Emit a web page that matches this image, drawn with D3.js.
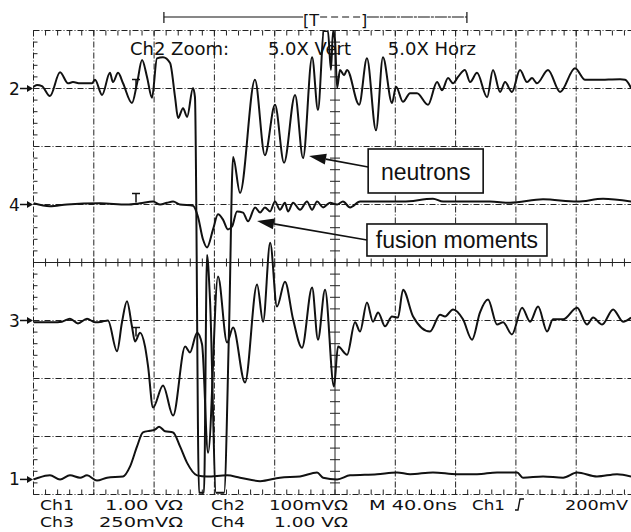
<!DOCTYPE html>
<html>
<head>
<meta charset="utf-8">
<script src="https://cdn.jsdelivr.net/npm/d3@7"></script>
<style>
body { margin: 0; background: #fff; }
text { font-family: "DejaVu Sans", sans-serif; fill: #111; }
</style>
</head>
<body>
<div id="scope"></div>
<script>
// scope screen: time in ns (40 ns/div, 10 div), value in divisions (8 div)
// each trace value is in divisions relative to its channel ground marker

var ch2_t = [0, 2.3, 5.6, 10.9, 17.6, 22.9, 26.2, 30.9, 38.8, 40.8, 45.5, 50.7, 52.7, 56.1, 59.4, 65.3, 68.7, 72.0, 75.3, 78.6, 81.9, 85.9, 90.6, 93.9, 95.9, 99.2, 101.9, 105.8, 107.1, 109.8, 113.1, 115.1, 117.1, 121.1, 126.4, 129.7, 132.4, 137.0, 146.9, 153.5, 160.2, 166.2, 173.5, 178.8, 184.8, 188.7, 192.7, 195.3, 197.3, 198.7, 200.0, 201.4, 203.3, 206.0, 208.0, 216.0, 221.2, 227.2, 231.8, 237.8, 240.5, 245.1, 249.8, 254.4, 261.7, 267.7, 271.0, 275.0, 278.3, 281.6, 286.2, 289.6, 294.2, 300.9, 304.8, 309.5, 312.8, 317.4, 322.7, 327.4, 330.7, 334.0, 341.3, 349.3, 359.2, 365.9, 373.8, 389.1, 392.4, 396.4];
var ch2_v = [0.03, 0.06, 0.04, -0.13, 0.28, 0.09, 0.11, 0.09, 0.09, 0.15, -0.11, 0.27, 0.11, 0.27, 0.09, -0.25, 0.09, 0.49, 0.20, -0.16, 0.52, 0.54, 0.44, -0.15, -0.51, -0.34, -0.49, 0.01, -0.15, -6.97, -6.97, -2.87, -3.65, -6.97, -6.97, -4.16, -1.18, -1.80, 0.15, -1.15, -0.28, -1.28, -0.11, -1.20, 0.54, -0.37, 0.99, 0.99, 0.32, 0.99, 0.84, 0.01, 0.32, 0.23, 0.32, -0.28, 0.52, -0.72, 0.54, -0.25, 0.03, -0.23, -0.08, -0.08, -0.28, 0.11, -0.03, 0.18, 0.09, 0.20, 0.32, 0.11, 0.27, -0.15, 0.32, -0.06, 0.11, -0.06, 0.32, 0.11, 0.18, 0.09, 0.32, -0.06, 0.35, 0.15, 0.15, 0.16, 0.15, 0.01];

var ch4_t = [0, 10.9, 22.2, 44.1, 62.0, 70.7, 79.3, 84.0, 88.6, 92.6, 97.2, 105.8, 109.1, 112.4, 115.1, 119.1, 122.4, 125.7, 129.0, 131.7, 135.0, 139.0, 142.3, 147.0, 150.3, 153.5, 156.9, 160.2, 163.5, 166.8, 168.8, 172.2, 176.8, 181.4, 184.8, 188.1, 192.1, 196.7, 201.4, 205.3, 210.0, 216.6, 227.9, 245.1, 265.0, 271.7, 302.8, 316.1, 338.0, 360.6, 377.8, 396.4];
var ch4_v = [0.02, -0.03, 0, 0.02, 0, 0.02, 0.05, 0, 0.03, 0.05, 0, -0.02, -0.21, -0.60, -0.74, -0.43, -0.17, -0.26, -0.43, -0.38, -0.12, -0.14, -0.29, -0.05, -0.14, -0.05, -0.12, 0.05, -0.09, 0.03, -0.12, 0.03, -0.09, 0.05, -0.09, 0.05, -0.05, 0.03, 0, 0.05, -0.05, 0.05, 0.05, 0.05, 0.10, 0.05, 0.05, 0.03, 0.09, 0.05, 0.10, 0.05];

var ch3_t = [0, 6.3, 12.9, 18.9, 24.2, 29.5, 35.5, 40.8, 45.4, 49.4, 55.4, 58.7, 62.0, 65.3, 67.3, 70.7, 74.0, 76.0, 79.3, 85.9, 92.6, 100.6, 103.8, 108.5, 111.8, 115.8, 122.4, 128.4, 132.4, 140.3, 148.3, 152.3, 157.0, 161.5, 166.8, 172.2, 178.1, 184.8, 188.7, 193.4, 199.3, 202.0, 208.0, 213.3, 216.6, 221.2, 225.2, 228.6, 233.2, 237.8, 241.8, 245.1, 251.8, 263.0, 269.7, 273.0, 278.3, 284.9, 290.9, 296.2, 301.5, 307.5, 311.5, 317.4, 324.1, 329.4, 334.7, 340.7, 344.6, 351.3, 360.6, 367.2, 371.2, 377.2, 384.5, 391.1, 396.4];
var ch3_v = [-0.03, -0.03, -0.03, -0.02, 0.03, -0.05, 0.03, -0.03, -0.02, 0, -0.53, -0.03, 0.33, -0.10, -0.36, -0.21, -0.45, -0.79, -1.50, -1.12, -1.64, -0.45, -0.55, -0.21, -0.41, -2.28, 0.76, -0.38, -0.12, -1.07, 0.62, -0.02, 1.34, 0.24, 0.67, 0.02, -0.47, 0.57, -0.33, 0.53, -1.14, -0.45, -0.59, -0.03, -0.19, 0.31, -0.02, 0.14, -0.10, 0.07, 0.05, 0.53, 0.07, -0.19, 0.10, 0.07, 0.19, 0.02, -0.33, 0.14, 0.36, -0.07, -0.03, -0.24, 0.22, -0.02, 0.24, -0.19, 0.02, 0.02, 0.22, -0.07, 0.05, -0.07, 0.19, -0.02, 0.05];

var ch1_t = [0, 2.3, 10.9, 17.6, 24.2, 30.9, 35.5, 42.1, 48.8, 59.4, 64.0, 68.7, 72.6, 77.3, 80.6, 83.3, 87.3, 92.6, 97.2, 101.8, 108.5, 115.1, 128.4, 137.0, 150.3, 163.5, 176.8, 188.1, 192.1, 201.4, 210.0, 227.9, 241.1, 249.8, 265.0, 280.9, 294.2, 307.5, 320.8, 324.7, 338.0, 351.3, 360.6, 373.8, 387.1, 396.4];
var ch1_v = [0, 0.02, 0.07, 0, 0.07, 0.03, 0.07, -0.02, 0.03, 0.05, 0.22, 0.57, 0.81, 0.84, 0.86, 0.91, 0.83, 0.81, 0.57, 0.29, 0.07, 0.05, 0.07, 0.03, -0.03, 0.03, 0.05, 0.12, 0.03, 0, 0.07, 0.09, 0.12, 0.09, 0.12, 0.09, 0.09, 0.12, 0.12, 0.03, 0.05, 0.03, 0.12, 0.05, 0.09, 0.05];

// ground marker positions (divisions from screen centre)
var chNames   = ["2", "4", "3", "1"];
var chOffsets = [3, 1, -1, -3.74];
var trigTime  = 68;             // ns, the little T marks
var zoomWin   = [86.5, 287.5];  // ns, bracket over the top
var zoomMark  = [179.5, 218.5];

var topLabels = [
	{ text: "Ch2 Zoom:", t: 64 },
	{ text: "5.0X Vert", t: 155.5 },
	{ text: "5.0X Horz", t: 235 }
];
var bottomRow1 = ["Ch1", "1.00 V\u03A9", "Ch2", "100mV\u03A9", "M 40.0ns", "Ch1", "200mV"];
var bottomRow2 = ["Ch3", "250mV\u03A9", "Ch4", "1.00 V\u03A9"];

var W = 631, H = 532;

var x = d3.scaleLinear().domain([0, 400]).range([33.5, 636.5]);
var y = d3.scaleLinear().domain([-4, 4]).range([494.5, 30.5]);

var svg = d3.select("#scope").append("svg")
	.attr("width", W)
	.attr("height", H);

svg.append("rect").attr("width", W).attr("height", H).attr("fill", "#fff");

// ---- graticule
var grid = svg.append("g").attr("stroke", "#222").attr("stroke-width", 1);
var xDivs = d3.range(0, 401, 40);
var yDivs = d3.range(-4, 4.5, 1);

grid.selectAll(".vg").data(xDivs).enter().append("line")
	.attr("class", "vg")
	.attr("x1", function(d) { return x(d); })
	.attr("x2", function(d) { return x(d); })
	.attr("y1", y(4)).attr("y2", y(-4))
	.attr("stroke-dasharray", function(d) { return d == 200 ? null : "6,2,1,2"; });

grid.selectAll(".hg").data(yDivs).enter().append("line")
	.attr("class", "hg")
	.attr("x1", x(0)).attr("x2", x(400))
	.attr("y1", function(d) { return y(d); })
	.attr("y2", function(d) { return y(d); })
	.attr("stroke-dasharray", function(d) { return d == 0 ? null : "6,2,1,2"; });

// minor ticks, 5 per division
var xMinor = d3.range(0, 400.1, 8);
var yMinor = d3.range(-4, 4.01, 0.2);
function hTicks(v, up, down) {
	grid.append("g").selectAll("line").data(xMinor).enter().append("line")
		.attr("x1", function(d) { return x(d); })
		.attr("x2", function(d) { return x(d); })
		.attr("y1", y(v) - up).attr("y2", y(v) + down);
}
function vTicks(t, left, right) {
	grid.append("g").selectAll("line").data(yMinor).enter().append("line")
		.attr("y1", function(d) { return y(d); })
		.attr("y2", function(d) { return y(d); })
		.attr("x1", x(t) - left).attr("x2", x(t) + right);
}
hTicks(4, 0, 5);
hTicks(-4, 5, 0);
hTicks(0, 4, 4);
vTicks(0, 0, 4);
vTicks(200, 5, 5);
vTicks(400, 4, 0);

// ---- traces
svg.append("clipPath").attr("id", "screen")
	.append("rect")
	.attr("x", x(0)).attr("y", y(4))
	.attr("width", x(400) - x(0)).attr("height", y(-4) - y(4));

var line = d3.line()
	.x(function(d) { return x(d[0]); })
	.y(function(d) { return y(d[1]); })
	.curve(d3.curveMonotoneX);

var channels = [
	{ t: ch2_t, v: ch2_v, off: chOffsets[0] },
	{ t: ch4_t, v: ch4_v, off: chOffsets[1] },
	{ t: ch3_t, v: ch3_v, off: chOffsets[2] },
	{ t: ch1_t, v: ch1_v, off: chOffsets[3] }
];

var traces = svg.append("g").attr("clip-path", "url(#screen)");
channels.forEach(function(ch) {
	var pts = ch.t.map(function(t, i) { return [t, ch.v[i] + ch.off]; });
	traces.append("path")
		.attr("d", line(pts))
		.attr("fill", "none")
		.attr("stroke", "#111")
		.attr("stroke-width", 2)
		.attr("stroke-linejoin", "round");
});

// trigger T marks on ch2, ch4 and ch3
var tMarks = svg.append("g").attr("stroke", "#111").attr("stroke-width", 1.5);
[[chOffsets[0], -9], [chOffsets[1], -11], [chOffsets[2], 7]].forEach(function(m) {
	var cx = x(trigTime), cy = y(m[0]) + m[1];
	tMarks.append("line").attr("x1", cx - 4).attr("x2", cx + 4).attr("y1", cy).attr("y2", cy);
	tMarks.append("line").attr("x1", cx).attr("x2", cx).attr("y1", cy).attr("y2", cy + 9);
});

// ---- ground markers on the left
var markers = svg.append("g");
chNames.forEach(function(n, i) {
	var cy = y(chOffsets[i]);
	markers.append("text")
		.attr("x", 9).attr("y", cy + 6)
		.style("font-size", "17px")
		.text(n);
	markers.append("line")
		.attr("x1", 20).attr("x2", 28)
		.attr("y1", cy).attr("y2", cy)
		.attr("stroke", "#111").attr("stroke-width", 1.5);
	markers.append("path")
		.attr("d", "M" + 27 + "," + (cy - 3.5) + "L" + 33 + "," + cy + "L" + 27 + "," + (cy + 3.5) + "Z")
		.attr("fill", "#111");
});

// ---- zoom bracket across the top
var br = svg.append("g").attr("stroke", "#111").attr("stroke-width", 1.2);
var by = 17;
br.append("line").attr("x1", x(zoomWin[0])).attr("x2", x(zoomMark[0]) - 1).attr("y1", by).attr("y2", by);
br.append("line").attr("x1", x(zoomMark[0]) + 16).attr("x2", x(zoomMark[1]) - 2).attr("y1", by).attr("y2", by)
	.attr("stroke-dasharray", "7,4");
br.append("line").attr("x1", x(zoomMark[1]) + 4).attr("x2", x(zoomWin[1])).attr("y1", by).attr("y2", by)
	.attr("stroke-dasharray", "12,1,3,1");
[zoomWin[0], zoomWin[1]].forEach(function(t) {
	br.append("line").attr("x1", x(t)).attr("x2", x(t)).attr("y1", by - 5).attr("y2", by + 6);
});
svg.append("text").attr("x", x(zoomMark[0]) - 1).attr("y", 26)
	.style("font-size", "16px").text("[T");
svg.append("text").attr("x", x(zoomMark[1]) - 2).attr("y", 26)
	.style("font-size", "16px").text("]");

// ---- screen text
svg.selectAll(".toplab").data(topLabels).enter().append("text")
	.attr("class", "toplab")
	.attr("x", function(d) { return x(d.t); })
	.attr("y", 55)
	.style("font-size", "18px")
	.text(function(d) { return d.text; });

// bottom readout: [start x, width] per label
var row1Pos = [[40, 34], [105, 78], [211, 34], [269, 79], [369, 88], [472, 33], [565, 63]];
var row2Pos = [[40, 34], [99, 84], [211, 34], [274, 74]];
function readout(labels, pos, base) {
	svg.append("g").selectAll("text").data(labels).enter().append("text")
		.attr("x", function(d, i) { return pos[i][0]; })
		.attr("y", base)
		.attr("textLength", function(d, i) { return pos[i][1]; })
		.attr("lengthAdjust", "spacingAndGlyphs")
		.style("font-size", "14.5px")
		.text(function(d) { return d; });
}
readout(bottomRow1, row1Pos, 510);
readout(bottomRow2, row2Pos, 527);
// rising-edge trigger symbol after "Ch1"
svg.append("path")
	.attr("d", "M515,510 L518,510 L520,499 L524,499")
	.attr("fill", "none").attr("stroke", "#111").attr("stroke-width", 1.4);

// ---- annotations
var notes = [
	{ text: "neutrons", t: 222, v: 1.957, w: 115, h: 44, fromV: 1.647, tipT: 182.8, tipV: 1.836, base: 31 },
	{ text: "fusion moments", t: 221.2, v: 0.664, w: 180, h: 32, fromV: 0.388, tipT: 148.3, tipV: 0.716, base: 24 }
];
var ann = svg.append("g");
notes.forEach(function(n) {
	var bx = x(n.t), bt = y(n.v);
	var fx = bx, fy = y(n.fromV);
	var tx = x(n.tipT), ty = y(n.tipV);
	var ang = Math.atan2(ty - fy, tx - fx);
	var len = 17, hw = 5.5;
	var bxh = tx - len * Math.cos(ang), byh = ty - len * Math.sin(ang);
	ann.append("line")
		.attr("x1", fx).attr("y1", fy).attr("x2", bxh).attr("y2", byh)
		.attr("stroke", "#111").attr("stroke-width", 1.6);
	ann.append("path")
		.attr("d", "M" + tx + "," + ty +
			"L" + (bxh + hw * Math.sin(ang)) + "," + (byh - hw * Math.cos(ang)) +
			"L" + (bxh - hw * Math.sin(ang)) + "," + (byh + hw * Math.cos(ang)) + "Z")
		.attr("fill", "#111");
	ann.append("rect")
		.attr("x", bx).attr("y", bt).attr("width", n.w).attr("height", n.h)
		.attr("fill", "#fff").attr("stroke", "#111").attr("stroke-width", 1.6);
	ann.append("text")
		.attr("x", bx + n.w / 2).attr("y", bt + n.base)
		.attr("text-anchor", "middle")
		.style("font-family", "'Liberation Sans', Arial, sans-serif")
		.style("font-size", "23px")
		.text(n.text);
});
</script>
</body>
</html>
